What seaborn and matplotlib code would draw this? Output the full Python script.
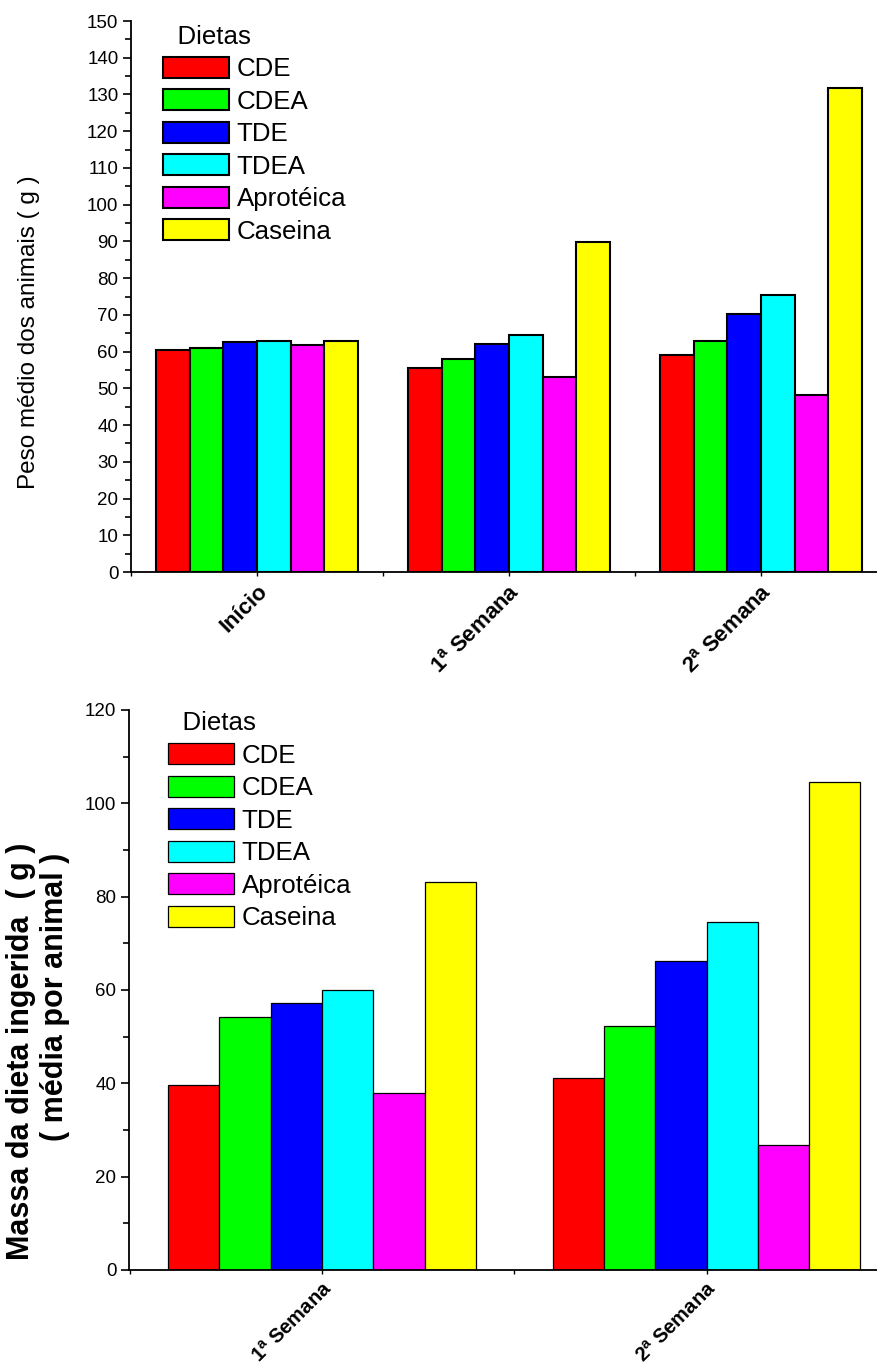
import numpy as np
import pandas as pd
import matplotlib
matplotlib.use("Agg")
import matplotlib.pyplot as plt
import seaborn as sns
from matplotlib.patches import Patch
from matplotlib.ticker import MultipleLocator, FixedLocator

# ---------------- data ----------------
dietas = ["CDE", "CDEA", "TDE", "TDEA", "Aprotéica", "Caseina"]
cores = ["#FF0000", "#00FF00", "#0000FF", "#00FFFF", "#FF00FF", "#FFFF00"]

periodos_peso = ["Início", "1$^{a}$ Semana", "2$^{a}$ Semana"]
peso_cde = [60.5, 55.5, 59.0]
peso_cdea = [61.0, 58.0, 62.8]
peso_tde = [62.5, 62.0, 70.3]
peso_tdea = [63.0, 64.5, 75.3]
peso_aprot = [61.8, 53.2, 48.3]
peso_caseina = [63.0, 89.8, 131.8]

periodos_massa = ["1$^{a}$ Semana", "2$^{a}$ Semana"]
massa_cde = [39.7, 41.2]
massa_cdea = [54.3, 52.2]
massa_tde = [57.3, 66.2]
massa_tdea = [59.9, 74.5]
massa_aprot = [38.0, 26.8]
massa_caseina = [83.2, 104.5]

def long_df(periodos, series):
    rows = []
    for d, vals in zip(dietas, series):
        for p, v in zip(periodos, vals):
            rows.append({"Periodo": p, "Dieta": d, "Valor": v})
    return pd.DataFrame(rows)

df_peso = long_df(periodos_peso, [peso_cde, peso_cdea, peso_tde, peso_tdea, peso_aprot, peso_caseina])
df_massa = long_df(periodos_massa, [massa_cde, massa_cdea, massa_tde, massa_tdea, massa_aprot, massa_caseina])

# ---------------- style ----------------
sns.set_style("ticks")
plt.rcParams["font.family"] = ["Liberation Sans", "DejaVu Sans"]
plt.rcParams["mathtext.default"] = "regular"
for k in ["text.color", "axes.labelcolor", "xtick.color", "ytick.color", "axes.edgecolor"]:
    plt.rcParams[k] = "black"

W, H = 877, 1371
fig = plt.figure(figsize=(W / 100, H / 100), dpi=100)

def fx(px):
    return px / W

def fy(py):
    return 1 - py / H

def make_panel(rect, df, order, ylim, major, minor, xlim, edge_lw, leg_anchor, xfs):
    ax = fig.add_axes(rect)
    sns.barplot(data=df, x="Periodo", y="Valor", hue="Dieta", order=order,
                hue_order=dietas, palette=cores, saturation=1, width=0.8,
                edgecolor="black", linewidth=edge_lw, errorbar=None,
                legend=False, ax=ax)
    ax.set_xlim(*xlim)
    ax.set_ylim(*ylim)
    ax.yaxis.set_major_locator(MultipleLocator(major))
    ax.yaxis.set_minor_locator(MultipleLocator(minor))
    n = len(order)
    ax.xaxis.set_major_locator(FixedLocator(list(range(n))))
    ax.xaxis.set_minor_locator(FixedLocator([i - 0.5 for i in range(n + 1)]))
    ax.set_xticklabels(order, rotation=45, ha="right", rotation_mode="anchor",
                       fontweight="bold", fontsize=xfs)
    ax.tick_params(axis="y", which="major", direction="out", length=6, width=1.2,
                   labelsize=13.5, pad=3)
    ax.tick_params(axis="y", which="minor", direction="out", length=4, width=1.2)
    ax.tick_params(axis="x", which="both", direction="out", length=3, width=1.0, pad=3)
    ax.set_xlabel("")
    ax.set_ylabel("")
    for s in ["top", "right"]:
        ax.spines[s].set_visible(False)
    for s in ["left", "bottom"]:
        ax.spines[s].set_linewidth(1.3)
        ax.spines[s].set_color("black")
    handles = [Patch(facecolor=c, edgecolor="black", linewidth=edge_lw) for c in cores]
    ax.legend(handles, dietas, title="  Dietas", loc="upper left",
              bbox_to_anchor=leg_anchor, frameon=False, fontsize=18.6,
              title_fontsize=18.6, handlelength=2.55, handleheight=0.88,
              labelspacing=0.31, handletextpad=0.3, borderpad=0,
              borderaxespad=0, alignment="left")
    return ax

# top panel: axis at x=131, y from 21 (150) to 572 (0)
top_rect = [fx(131), fy(572), 1 - fx(131), (572 - 21) / H]
ax1 = make_panel(top_rect, df_peso, periodos_peso, (0, 150), 10, 5,
                 (-0.5, (877 - 131) / 252.0 - 0.5), 1.5,
                 ((163 - 131) / 746.0, 0.993), 16)

# bottom panel: axis at x=129, y from 710 (120) to 1270 (0)
bot_rect = [fx(129), fy(1270), 1 - fx(129), (1270 - 710) / H]
ax2 = make_panel(bot_rect, df_massa, periodos_massa, (0, 120), 20, 10,
                 (-0.502, (877 - 129) / 384.5 - 0.502), 0.9,
                 ((168 - 129) / 748.0, 0.998), 14.5)

# y labels
fig.text(fx(29), fy(332), "Peso médio dos animais ( g )", rotation=90,
         ha="center", va="center", fontsize=17.5)
fig.text(fx(21), fy(1051), "Massa da dieta ingerida  ( g )", rotation=90,
         ha="center", va="center", fontsize=22, fontweight="bold")
fig.text(fx(55), fy(997), "( média por animal )", rotation=90,
         ha="center", va="center", fontsize=22, fontweight="bold")

fig.savefig("out.png", dpi=100)
